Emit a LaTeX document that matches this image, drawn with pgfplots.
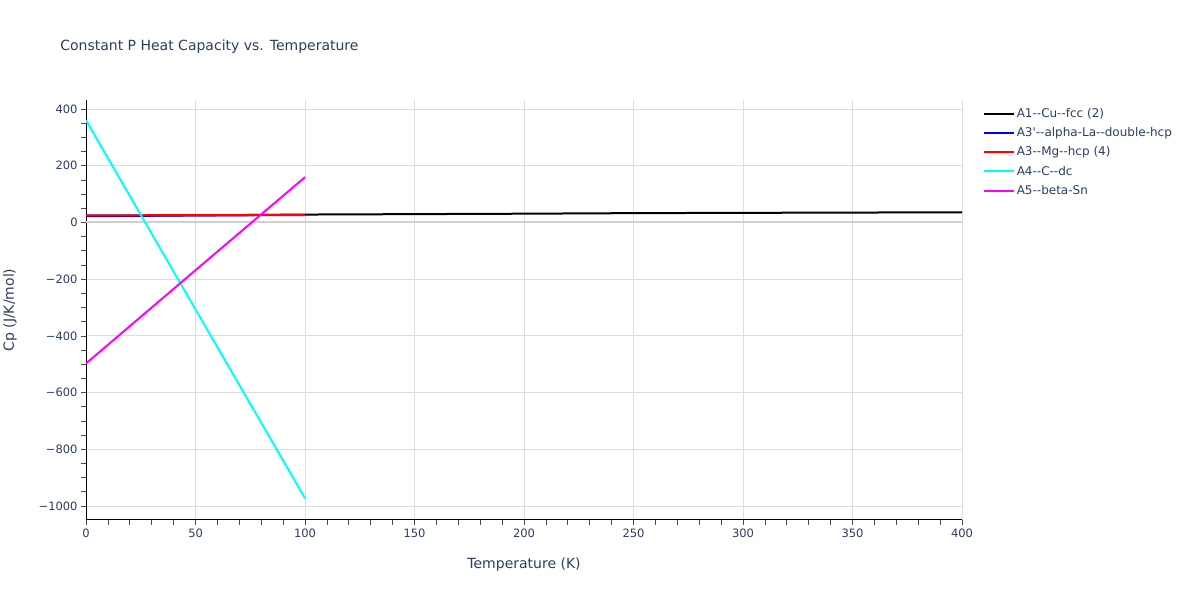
\documentclass[border=0pt]{standalone}
\usepackage{pgfplots}
\pgfplotsset{compat=1.18}
\usepackage{fontspec}
\setmainfont{DejaVu Sans}
\definecolor{txt}{HTML}{2A3F5F}
\definecolor{grd}{HTML}{DDDDDD}
\definecolor{zer}{HTML}{D0D0D0}
\definecolor{cy}{HTML}{00FFFF}
\definecolor{mg}{HTML}{FF00FF}
\definecolor{rd}{HTML}{FF0000}
\definecolor{bl}{HTML}{0000FF}
\begin{document}
\begin{tikzpicture}[x=1pt,y=1pt]
\path[fill=white] (0,0) rectangle (1200,600);
\node[anchor=west,inner sep=0pt,text=txt,font=\fontsize{14}{17}\selectfont] at (60,553) {Constant P Heat Capacity vs. Temperature};
\begin{axis}[
  at={(86pt,80pt)}, anchor=south west,
  width=876pt, height=420pt, scale only axis,
  xmin=0, xmax=400, ymin=-1049, ymax=432,
  axis x line*=bottom, axis y line*=left,
  axis line style={black, line width=1pt, -},
  xtick={0,50,...,400}, ytick={-1000,-800,...,400},
  yticklabels={−1000,−800,−600,−400,−200,0,200,400},
  minor x tick num=4, minor y tick num=3,
  tick align=outside, major tick length=5pt, minor tick length=5pt,
  tick style={black!70, line width=0.8pt},
  grid=major, major grid style={grd, line width=1pt},
  /pgf/number format/assume math mode=true,
  ticklabel style={text=txt, font=\fontsize{11.5}{13}\selectfont},
  xlabel={Temperature (K)}, ylabel={Cp (J/K/mol)},
  label style={text=txt, font=\fontsize{14}{16}\selectfont},
  xlabel style={at={(0.5,0)}, anchor=center, yshift=-45pt},
  ylabel style={at={(0,0.5)}, anchor=center, yshift=76pt},
  legend style={at={(1.02,0.99)}, anchor=north west, draw=none, fill=none,
    font=\fontsize{12}{14}\selectfont, text=txt, row sep=4.6pt,
    legend cell align=left},
  legend image code/.code={\draw[#1, line width=2pt] (0pt,0pt) -- (30pt,0pt);},
  clip=true,
]
\draw[zer, line width=2pt] (axis cs:0,0) -- (axis cs:400,0);
\addplot[black, line width=2pt] coordinates {
(0,22) (50,25) (100,28) (150,29.5) (200,31) (250,33) (300,34) (350,35) (400,36)
};
\addlegendentry{A1-{}-Cu-{}-fcc (2)}
\addplot[bl, line width=2pt] coordinates {
(0,24) (50,25) (100,26)
};
\addlegendentry{A3\textquotesingle-{}-alpha-La-{}-double-hcp}
\addplot[rd, line width=2pt] coordinates {
(0,25) (50,26) (100,27)
};
\addlegendentry{A3-{}-Mg-{}-hcp (4)}
\addplot[cy, line width=2pt] coordinates {
(0,360) (50,-307) (100,-973)
};
\addlegendentry{A4-{}-C-{}-dc}
\addplot[mg, line width=2pt] coordinates {
(0,-497) (50,-168) (100,160)
};
\addlegendentry{A5-{}-beta-Sn}
\end{axis}
\end{tikzpicture}
\end{document}
